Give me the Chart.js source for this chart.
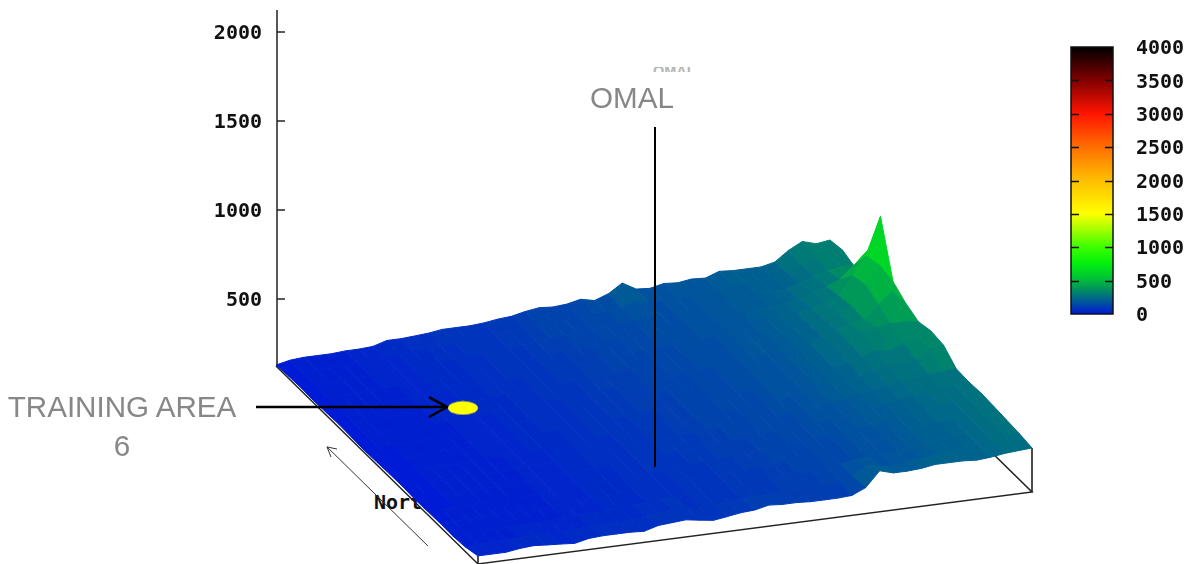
<!DOCTYPE html>
<html lang="en">
<head>
<meta charset="UTF-8">
<title>Omal terrain surface</title>
<script src="https://cdn.jsdelivr.net/npm/chart.js"></script>
<style>
    body { margin: 0; background: #fff; width: 1186px; height: 564px; overflow: hidden; position: relative; font-family: "Liberation Sans", Arial, sans-serif; }
    canvas { position: absolute; }
    #surface { left: 0; top: 0; z-index: 2; }
    #colorbar { left: 1060px; top: 30px; z-index: 2; }
    .note { position: absolute; z-index: 3; color: #878787; font-size: 29.6px; line-height: 39px; text-align: center; }
    #training { left: 2px; top: 387px; width: 240px; }
    #omal { left: 572px; top: 78px; width: 120px; }
    #omalCut { position: absolute; z-index: 1; left: 653px; top: 67px; width: 42px; height: 5px; overflow: hidden; color: #b5b5b5; font-size: 14.5px; font-weight: bold; line-height: 9px; }
    #north { position: absolute; z-index: 1; left: 374px; top: 490px; font: bold 20px "DejaVu Sans Mono", monospace; color: #111; }
</style>
</head>
<body>
<div id="north">North</div>
<div id="omalCut">OMAL</div>
<canvas id="surface" width="1186" height="564"></canvas>
<canvas id="colorbar" width="126" height="300"></canvas>
<div class="note" id="training">TRAINING AREA<br>6</div>
<div class="note" id="omal">OMAL</div>
<script>
    // heights, one row per north-south step (back edge first), west to east
    const row0  = [5,22,28,28,28,34,34,39,62,62,67,73,84,84,84,90,101,107,124,135,129,135,152,135,163,213,169,163,180,174,185,180,208,202,202,202,219,275,315,292,303];
    const row1  = [12,20,26,28,30,34,38,42,52,58,62,68,76,80,82,88,96,104,118,126,126,132,144,138,154,178,162,160,170,172,180,182,198,200,204,208,225,262,295,305,315];
    const row2  = [15,20,24,27,30,33,37,41,48,54,59,65,72,77,81,86,93,101,112,120,122,130,140,136,150,162,158,158,166,170,178,184,194,200,208,218,236,268,288,300,286];
    const row3  = [12,18,22,26,29,32,35,39,45,51,56,62,68,74,79,84,90,98,107,115,118,126,134,134,146,154,154,156,164,170,178,186,196,204,216,232,255,280,310,380,455];
    const row4  = [15,19,23,26,28,31,34,38,43,49,54,60,66,72,77,82,88,95,103,111,116,122,130,132,142,148,152,154,162,170,178,188,198,208,224,248,270,295,400,500,713];
    const row5  = [18,20,24,26,28,30,33,37,42,47,52,58,64,70,75,80,86,92,100,108,113,120,126,130,138,144,150,152,160,168,178,188,200,212,230,256,282,310,420,520,416];
    const row6  = [15,19,22,25,27,29,32,36,40,45,50,56,62,68,73,78,84,90,97,104,110,116,124,128,135,142,148,152,158,168,176,188,200,214,236,262,290,300,380,440,365];
    const row7  = [12,18,21,24,26,28,31,35,39,44,49,54,60,66,71,76,82,88,95,102,108,114,121,126,133,140,146,150,158,166,176,188,200,216,238,262,305,330,340,340,331];
    const row8  = [15,17,20,23,25,27,30,33,37,42,47,52,58,64,69,74,80,86,93,100,106,112,118,124,130,138,144,148,156,164,174,186,198,212,232,256,280,265,300,320,348];
    const row9  = [18,17,20,22,24,26,29,32,36,40,45,50,56,62,67,72,78,84,91,98,104,110,116,122,128,134,140,146,152,160,170,180,194,208,224,244,265,255,275,330,337];
    const row10 = [20,18,20,22,24,26,28,31,35,39,43,48,54,60,65,70,76,82,89,96,102,106,112,118,124,130,136,142,148,156,166,176,188,202,216,232,245,250,265,270,275];
    const row11 = [15,18,20,22,23,25,27,30,34,38,42,47,53,58,63,68,74,80,86,92,96,102,108,114,120,126,132,138,144,152,160,170,182,194,208,222,234,242,250,260,270];
    const row12 = [18,19,20,22,24,26,28,30,33,37,41,46,52,57,62,67,72,78,84,88,92,98,104,110,116,122,128,134,142,148,156,166,176,188,200,214,226,236,246,258,275];
    const row13 = [20,20,22,24,26,27,29,31,34,38,42,46,51,56,61,66,71,76,82,86,90,94,100,106,112,118,124,130,138,146,154,162,172,184,196,208,220,232,244,256,270];
    const row14 = [18,22,24,26,28,29,31,33,36,40,44,48,53,58,63,68,73,76,80,84,88,92,96,102,108,114,120,128,138,150,158,164,172,182,194,206,218,230,242,254,264];
    const row15 = [25,30,32,34,38,40,38,36,44,50,52,54,56,66,74,80,78,72,78,86,92,100,98,100,102,104,108,116,135,190,172,170,180,190,200,210,218,228,240,250,258];
    const row16 = [45,45,45,56,62,56,51,45,62,67,67,67,62,84,90,96,84,73,84,96,101,118,112,112,107,107,107,112,146,230,208,208,213,225,225,225,219,225,236,242,247];
    const heightRows = [row0,row1,row2,row3,row4,row5,row6,row7,row8,row9,row10,row11,row12,row13,row14,row15,row16];

    const zTicks = [500, 1000, 1500, 2000];
    const colorbarTicks = [0, 500, 1000, 1500, 2000, 2500, 3000, 3500, 4000];
    const colorbarValue = [4000];

    const paletteValues = [0, 10, 100, 250, 400, 500, 750, 1000, 1500, 2000, 2500, 3000, 3500, 4000];
    const paletteColors = [[0,0,255],[0,26,214],[0,58,182],[0,108,132],[0,155,85],[0,185,60],[0,240,15],[60,255,0],[255,255,0],[255,190,0],[255,110,0],[255,20,0],[130,0,0],[0,0,0]];

    function colorFor(v) {
        for (let s = 1; s < paletteValues.length; s++) {
            if (v <= paletteValues[s]) {
                const t = (v - paletteValues[s - 1]) / (paletteValues[s] - paletteValues[s - 1]);
                const a = paletteColors[s - 1], b = paletteColors[s];
                return 'rgb(' + a.map((c, n) => Math.round(c + (b[n] - c) * t)).join(',') + ')';
            }
        }
        return 'rgb(0,0,0)';
    }

    // oblique view of the grid: x is in page units, y stays in height units of the z axis
    function project(east, north, z) {
        return { x: 276 + east * 13.85 + north * 12.625, y: z + 124 + east * 10.11 - north * 69.52 };
    }

    function lineSet(points, color, width) {
        return { data: points, showLine: true, fill: false, borderColor: color, borderWidth: width, pointRadius: 0, tension: 0 };
    }
    function pairs(xs, ys) { return xs.map((x, n) => ({ x: x, y: ys[n] })); }

    // annotations drawn over the plot
    const omalLineX = [655, 655];
    const omalLineY = [1466, -444];
    const arrowX = [256, 447];
    const arrowY = [-107, -107];
    const arrowHeadX = [429, 447, 429];
    const arrowHeadY = [-51, -107, -163];
    const northArrowX = [428, 327];
    const northArrowY = [-888, -331];
    const northHeadX = [337, 327, 331];
    const northHeadY = [-343, -331, -388];
    const trainingArea = [8.86, 5.09, 28];

    const lastEast = row0.length - 1, lastNorth = heightRows.length - 1;

    const ellipse = document.createElement('canvas');
    ellipse.width = 32; ellipse.height = 15;
    const ectx = ellipse.getContext('2d');
    ectx.fillStyle = '#ffff00';
    ectx.beginPath();
    ectx.ellipse(16, 7.5, 15, 6.7, 0, 0, Math.PI * 2);
    ectx.fill();

    // chart.js paints the last dataset first, so the list runs from the top layer to the bottom layer
    const datasets = [];
    datasets.push({ data: [project.apply(null, trainingArea)], pointStyle: ellipse, pointRadius: 10, showLine: false });
    datasets.push(lineSet(pairs(omalLineX, omalLineY), '#000', 2));
    datasets.push(lineSet(pairs(arrowX, arrowY), '#000', 2.5));
    datasets.push(lineSet(pairs(arrowHeadX, arrowHeadY), '#000', 2.5));

    for (let k = lastNorth - 1; k >= 0; k--) {
        for (let i = 0; i < lastEast; i++) {
            const a = heightRows[k][i], b = heightRows[k][i + 1], c = heightRows[k + 1][i + 1], d = heightRows[k + 1][i];
            // colour levels come in steps, the original shows flat bands rather than a smooth ramp
            const level = ((a + b + c + d) / 4 + Math.max(a, b, c, d)) / 2;
            const col = colorFor(Math.round(level / 14) * 14);
            datasets.push({
                data: [project(i, k, a), project(i + 1, k, b), project(i + 1, k + 1, c), project(i, k + 1, d), project(i, k, a)],
                showLine: true, fill: 'shape', backgroundColor: col, borderColor: col, borderWidth: 1, pointRadius: 0, tension: 0
            });
        }
    }

    // box and axis lines sit behind the surface
    datasets.push(lineSet([project(0, 0, 0), project(0, lastNorth, 0), project(lastEast, lastNorth, 0), project(lastEast, 0, 0)], '#222', 1.5));
    datasets.push(lineSet([project(0, lastNorth, row16[0]), project(0, lastNorth, 0)], '#111', 1.5));
    datasets.push(lineSet([project(lastEast, lastNorth, row16[lastEast]), project(lastEast, lastNorth, 0)], '#111', 1.5));
    datasets.push(lineSet(pairs(northArrowX, northArrowY), '#333', 1));
    datasets.push(lineSet(pairs(northHeadX, northHeadY), '#333', 1));
    datasets.push(lineSet(pairs([277, 277], [2124, 129]), '#222', 1.5));
    zTicks.forEach(t => datasets.push(lineSet(pairs([277, 285], [t, t]), '#222', 1.5)));

    // the empty first line pushes the label down a little, these glyphs sit high otherwise
    const tickLabel = v => ['', String(v)];
    const tickFont = { family: '"DejaVu Sans Mono"', size: 20, weight: 'bold', lineHeight: '4px' };

    new Chart(document.getElementById('surface'), {
        type: 'scatter',
        data: { datasets: datasets },
        options: {
            responsive: false,
            animation: false,
            events: [],
            layout: { autoPadding: false, padding: 0 },
            plugins: { legend: { display: false }, tooltip: { enabled: false } },
            scales: {
                x: { type: 'linear', min: 0, max: 1186, display: false },
                y: {
                    type: 'linear',
                    min: -988.8,
                    max: 2179.8,
                    position: { x: 262 },
                    afterBuildTicks: axis => { axis.ticks = zTicks.map(v => ({ value: v })); },
                    afterFit: axis => { axis.paddingTop = 0; axis.paddingBottom = 0; },
                    grid: { display: false },
                    border: { display: false },
                    ticks: { callback: tickLabel, color: '#111', padding: 0, font: tickFont }
                }
            }
        }
    });

    // frame and inner tick marks of the colour bar
    const barFrame = {
        id: 'barFrame',
        afterDatasetsDraw(chart) {
            const c = chart.ctx, area = chart.chartArea, y = chart.scales.y;
            c.save();
            c.strokeStyle = '#111';
            c.lineWidth = 1.5;
            c.strokeRect(area.left, area.top, area.right - area.left, area.bottom - area.top);
            colorbarTicks.slice(1, -1).forEach(t => {
                const p = Math.round(y.getPixelForValue(t)) + 0.5;
                c.beginPath();
                c.moveTo(area.left, p); c.lineTo(area.left + 8, p);
                c.moveTo(area.right - 8, p); c.lineTo(area.right, p);
                c.stroke();
            });
            c.restore();
        }
    };

    new Chart(document.getElementById('colorbar'), {
        type: 'bar',
        data: {
            labels: [''],
            datasets: [{
                data: colorbarValue,
                barPercentage: 1,
                categoryPercentage: 1,
                backgroundColor(ctx) {
                    const area = ctx.chart.chartArea;
                    if (!area) return '#00f';
                    const g = ctx.chart.ctx.createLinearGradient(0, area.bottom, 0, area.top);
                    paletteValues.forEach((v, n) => g.addColorStop(v / 4000, 'rgb(' + paletteColors[n].join(',') + ')'));
                    return g;
                }
            }]
        },
        options: {
            responsive: false,
            animation: false,
            events: [],
            layout: { autoPadding: false, padding: { left: 11, top: 17, bottom: 16 } },
            plugins: { legend: { display: false }, tooltip: { enabled: false } },
            scales: {
                x: { display: false },
                y: {
                    position: 'right',
                    min: 0,
                    max: 4000,
                    afterBuildTicks: axis => { axis.ticks = colorbarTicks.map(v => ({ value: v })); },
                    afterFit: axis => { axis.width = 73; axis.paddingTop = 0; axis.paddingBottom = 0; },
                    grid: { display: false },
                    border: { display: false },
                    ticks: { callback: tickLabel, color: '#111', padding: 15, font: tickFont }
                }
            }
        },
        plugins: [barFrame]
    });
</script>
</body>
</html>
